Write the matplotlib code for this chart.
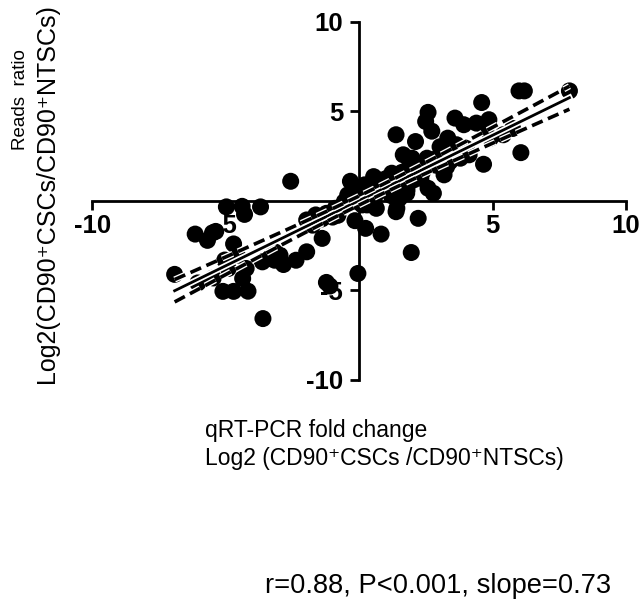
import numpy as np
import matplotlib
matplotlib.use("Agg")
import matplotlib.pyplot as plt
import matplotlib.patheffects as pe

plt.rcParams['font.family'] = ['Liberation Sans', 'DejaVu Sans']
plt.rcParams['axes.unicode_minus'] = False

# qRT-PCR log2 fold change (x) vs reads ratio (y)
qpcr = [-6.92, -6.15, -6.05, -5.69, -5.50, -5.38, -5.47, -5.11, -4.98, -5.04,
        -4.91, -4.71, -4.71, -4.57, -4.39, -4.30, -4.37, -4.17, -4.24, -3.70,
        -3.61, -3.63, -3.37, -3.17, -3.17, -2.84, -2.97, -2.57, -2.37, -1.97,
        -1.97, -1.63, -1.39, -1.23, -1.23, -1.10, -0.90, -0.56, -0.43, -0.33,
        -0.23, -0.16, -0.05, -0.03, 0.11, 0.24, 0.24, 0.44, 0.58, 0.64,
        0.82, 0.84, 0.91, 1.04, 1.18, 1.31, 1.38, 1.38, 1.51, 1.65,
        1.71, 1.78, 1.85, 1.95, 1.98, 2.11, 2.18, 2.21, 2.31, 2.38,
        2.49, 2.58, 2.72, 2.78, 2.58, 2.78, 2.92, 3.12, 3.18, 3.32,
        3.45, 3.59, 3.65, 3.79, 3.92, 3.99, 4.12, 4.39, 4.59, 4.66,
        4.72, 4.86, 4.92, 5.40, 5.75, 5.99, 6.19, 6.06, 7.88, 3.03,
        2.54, 3.28, 1.22, 1.66, 0.79, 0.54, 1.41, 2.03, 0.29, 1.79,
        0.29, 1.41, 4.03, -1.75, -1.00, -0.60, 0.05, 0.55, 0.60, 1.00,
        1.60, 2.40, 2.90, 3.40, 1.20, 0.20, -0.80, -1.40]
reads = [-4.10, -1.85, -4.58, -2.20, -1.78, -1.70, -4.30, -5.05, -0.33, -3.30,
         -3.77, -5.05, -2.40, -3.03, -0.30, -0.75, -4.33, -5.04, -3.77, -0.33,
         -6.57, -3.40, -3.21, -2.84, -3.31, -3.55, -3.03, 1.10, -3.31, -2.84,
         -1.06, -0.78, -2.09, -0.69, -4.55, -4.75, -0.41, -0.04, 0.34, 1.10,
         -0.04, -1.10, -4.05, 0.43, -0.22, -1.53, 0.52, 0.06, 0.71, -0.41,
         -1.85, 1.08, 0.62, 1.27, 0.71, 1.27, -0.60, 3.70, 0.15, 2.58,
         1.08, 0.43, 1.83, -2.88, 2.39, 3.32, 2.02, -0.97, 1.27, 1.64,
         4.44, 4.95, 3.90, 0.43, 0.71, 2.02, 2.39, 1.83, 1.46, 3.51,
         2.76, 4.63, 3.14, 2.39, 4.26, 2.95, 2.58, 4.35, 5.50, 2.05,
         4.07, 4.54, 3.51, 3.70, 4.05, 6.15, 6.15, 2.70, 6.15, 3.03,
         2.39, 1.92, 1.55, 1.36, 1.17, 1.36, 0.89, 1.17, 0.61, 0.61,
         -0.22, -0.41, 2.85, -1.35, -0.90, -0.25, 0.15, 0.25, 0.30, 0.90,
         1.60, 2.00, 2.00, 2.20, 0.30, 0.90, -0.80, -1.00]

tick_vals = [-10, -5, 5, 10]
tick_text = ['-10', '-5', '5', '10']

x = np.array(qpcr)
y = np.array(reads)

# linear fit with 95% confidence band
slope, icept = np.polyfit(x, y, 1)
n = len(x)
resid = y - (slope * x + icept)
s = np.sqrt(np.sum(resid ** 2) / (n - 2))
sxx = np.sum((x - x.mean()) ** 2)
xf = np.linspace(x.min(), x.max(), 200)
yf = slope * xf + icept
half = 1.98 * s * np.sqrt(1.0 / n + (xf - x.mean()) ** 2 / sxx)

fig = plt.figure(figsize=(6.4, 6.07), dpi=100)
ax = fig.add_axes([0.1445, 0.374, 0.8336, 0.5898])

ax.scatter(x, y, s=150, color='black', edgecolors='none', zorder=3)

stroke = [pe.Stroke(linewidth=4.5, foreground='white'), pe.Normal()]
ax.plot(xf, yf, color='black', lw=2.0, zorder=4, path_effects=stroke)
ax.plot(xf, yf + half, color='black', lw=2.6, dashes=(3.2, 1.6), zorder=4,
        path_effects=stroke)
ax.plot(xf, yf - half, color='black', lw=2.6, dashes=(3.2, 1.6), zorder=4,
        path_effects=stroke)

ax.set_xlim(-10, 10)
ax.set_ylim(-10, 10)
ax.spines['left'].set_position(('data', 0))
ax.spines['bottom'].set_position(('data', 0))
ax.spines['top'].set_visible(False)
ax.spines['right'].set_visible(False)
for sp in ['left', 'bottom']:
    ax.spines[sp].set_linewidth(2.0)

ax.set_xticks(tick_vals)
ax.set_xticklabels(tick_text)
ax.set_yticks(tick_vals)
ax.set_yticklabels(tick_text)
ax.tick_params(axis='x', length=6.5, width=2.0, pad=3, labelsize=18.5)
ax.tick_params(axis='y', length=6.5, width=2.0, pad=5, labelsize=18.5)
for lab in ax.get_xticklabels() + ax.get_yticklabels():
    lab.set_fontweight('bold')

# axis titles
fig.text(21 / 640, 1 - 100 / 607, 'Reads  ratio', rotation=90,
         ha='center', va='center', fontsize=13.5)
fig.text(47 / 640, 1 - 194 / 607, 'Log2(CD90\u207aCSCs/CD90\u207aNTSCs)',
         rotation=90, ha='center', va='center', fontsize=18)
fig.text(205 / 640, 1 - 437 / 607, 'qRT-PCR fold change',
         ha='left', va='baseline', fontsize=16.5)
fig.text(205 / 640, 1 - 465 / 607, 'Log2 (CD90\u207aCSCs /CD90\u207aNTSCs)',
         ha='left', va='baseline', fontsize=16.5)

fig.text(265 / 640, 1 - 593 / 607, 'r=0.88, P<0.001, slope=0.73',
         ha='left', va='baseline', fontsize=19.6)

fig.savefig('out.png', dpi=100)
